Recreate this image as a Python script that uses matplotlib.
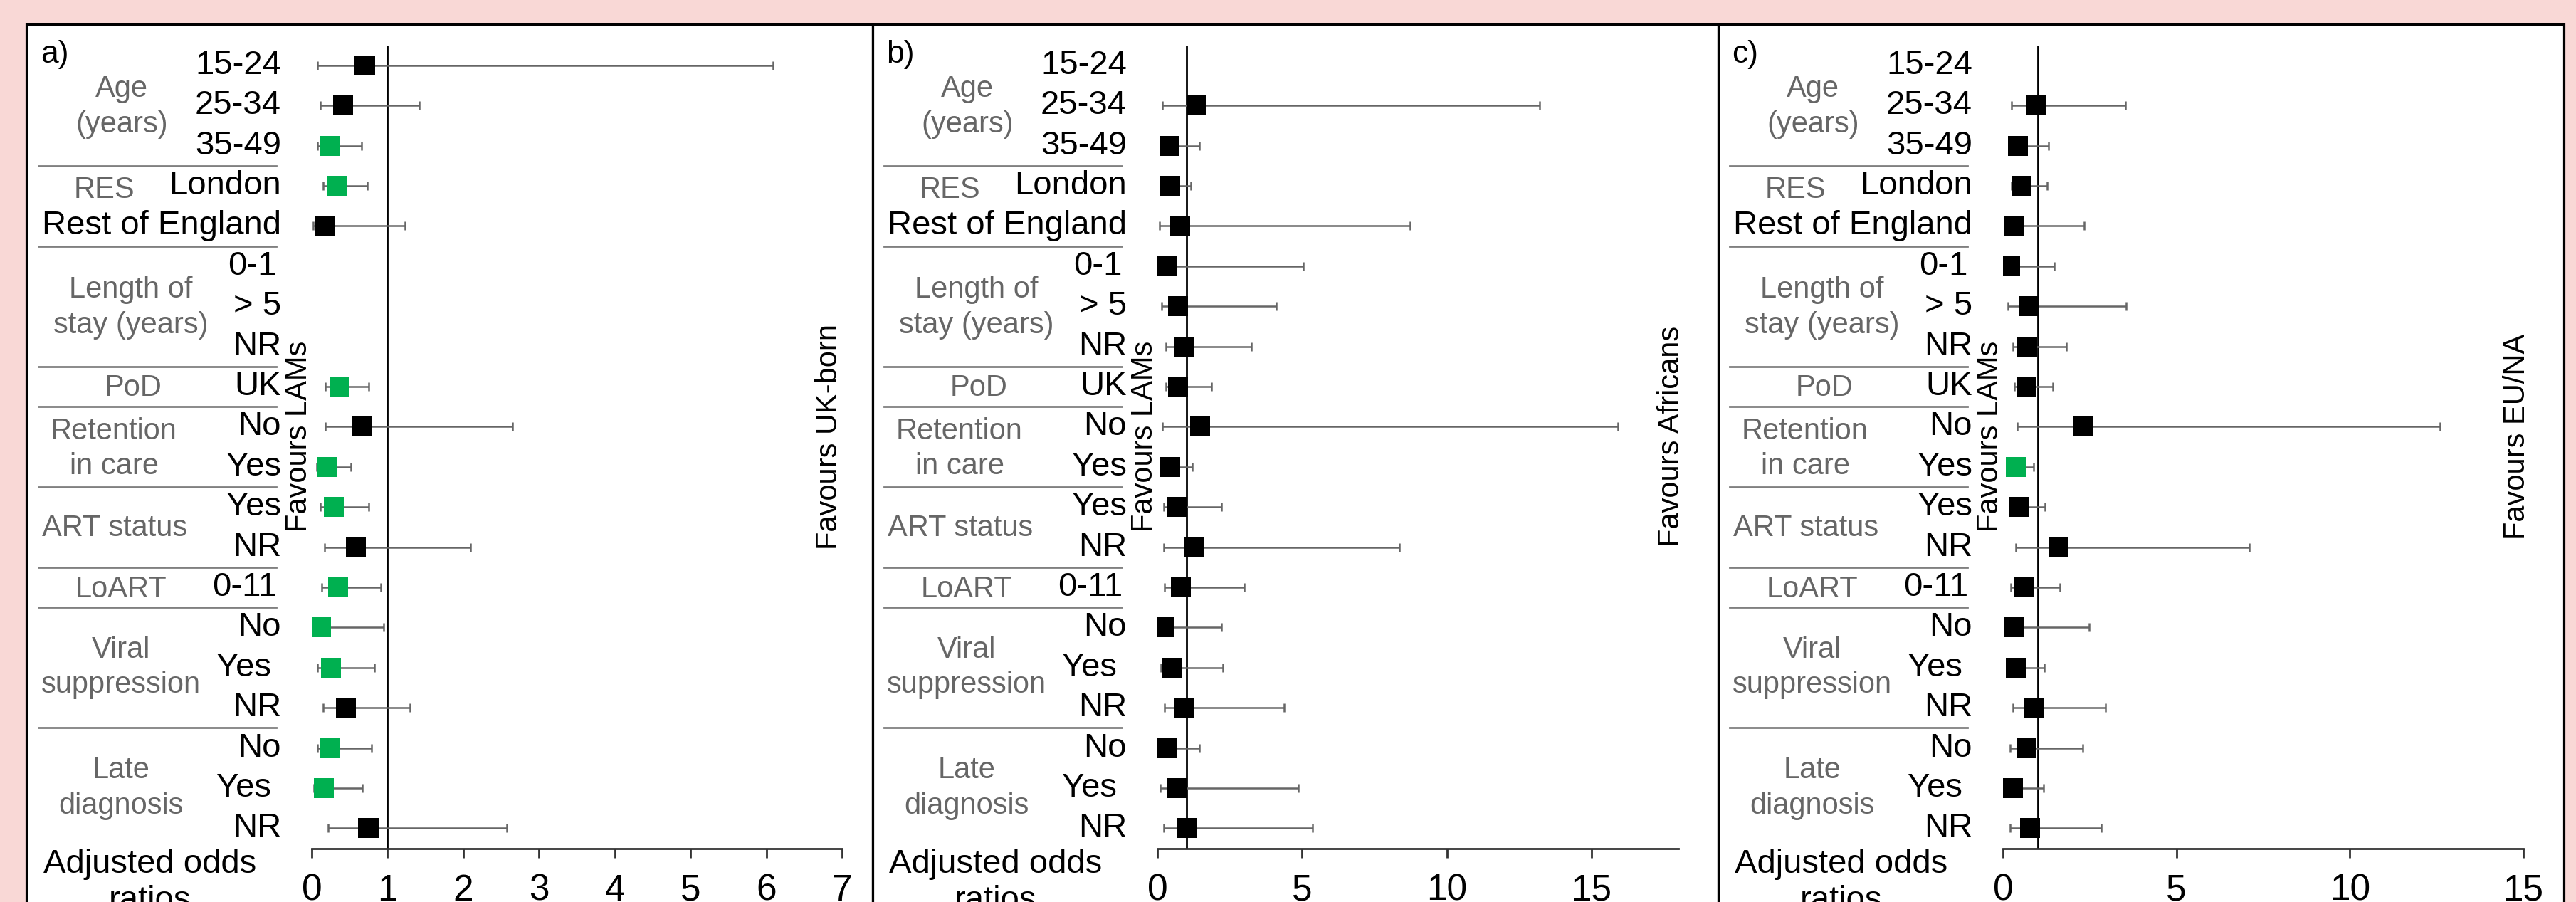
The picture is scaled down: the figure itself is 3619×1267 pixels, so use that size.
import numpy as np
import matplotlib
matplotlib.use("Agg")
import matplotlib.pyplot as plt
from matplotlib.patches import Rectangle
from matplotlib.lines import Line2D
from matplotlib.transforms import blended_transform_factory

plt.rcParams['font.family'] = ['Liberation Sans', 'DejaVu Sans']

nan = np.nan

# rows, top to bottom
row_labels = ['15-24', '25-34', '35-49', 'London', 'Rest of England',
              '0-1', '> 5', 'NR', 'UK', 'No', 'Yes', 'Yes', 'NR', '0-11',
              'No', 'Yes', 'NR', 'No', 'Yes', 'NR']
group_labels = ['Age\n(years)', 'RES', 'Length of\nstay (years)', 'PoD',
                'Retention\nin care', 'ART status', 'LoART',
                'Viral\nsuppression', 'Late\ndiagnosis']
group_rows = [1.03, 3.1, 6.03, 8.04, 9.55, 11.53, 13.05, 15.0, 18.0]
separators = [2.5, 4.5, 7.5, 8.5, 10.5, 12.5, 13.5, 16.5]

panel_tags = ['a)', 'b)', 'c)']
favours_right = ['Favours UK-born', 'Favours Africans', 'Favours EU/NA']
xmax = [7, 18, 15]
xticks = [[0, 1, 2, 3, 4, 5, 6, 7], [0, 5, 10, 15], [0, 5, 10, 15]]

# adjusted odds ratios and 95% CI, LAMs vs UK-born
or_a = [0.70, 0.41, 0.235, 0.33, 0.17, nan, nan, nan, 0.367, 0.67,
        0.207, 0.29, 0.585, 0.35, 0.126, 0.257, 0.447, 0.243, 0.16, 0.747]
lo_a = [0.075, 0.11, 0.075, 0.15, 0.02, nan, nan, nan, 0.18, 0.18,
        0.07, 0.11, 0.17, 0.13, 0.01, 0.075, 0.15, 0.075, 0.03, 0.22]
hi_a = [6.09, 1.42, 0.66, 0.73, 1.23, nan, nan, nan, 0.75, 2.65,
        0.52, 0.75, 2.10, 0.91, 0.945, 0.83, 1.30, 0.79, 0.67, 2.57]

# LAMs vs Africans
or_b = [nan, 1.36, 0.41, 0.44, 0.79, 0.31, 0.71, 0.92, 0.71, 1.47,
        0.44, 0.68, 1.28, 0.81, 0.25, 0.52, 0.94, 0.35, 0.69, 1.04]
lo_b = [nan, 0.16, 0.2, 0.3, 0.08, 0.05, 0.14, 0.29, 0.29, 0.16,
        0.2, 0.22, 0.22, 0.25, 0.05, 0.12, 0.25, 0.1, 0.1, 0.22]
hi_b = [nan, 13.2, 1.44, 1.15, 8.74, 5.03, 4.10, 3.24, 1.86, 15.9,
        1.2, 2.22, 8.36, 3.0, 2.22, 2.26, 4.37, 1.44, 4.86, 5.36]

# LAMs vs EU/NA
or_c = [nan, 0.94, 0.43, 0.54, 0.31, 0.2, 0.73, 0.69, 0.67, 2.32,
        0.37, 0.48, 1.6, 0.62, 0.31, 0.36, 0.9, 0.67, 0.28, 0.78]
lo_c = [nan, 0.25, 0.2, 0.24, 0.05, 0.03, 0.15, 0.28, 0.32, 0.42,
        0.1, 0.2, 0.37, 0.23, 0.05, 0.1, 0.29, 0.2, 0.05, 0.21]
hi_c = [nan, 3.53, 1.31, 1.28, 2.33, 1.47, 3.56, 1.83, 1.44, 12.6,
        0.89, 1.22, 7.09, 1.64, 2.49, 1.2, 2.95, 2.3, 1.16, 2.84]

panels = [(or_a, lo_a, hi_a), (or_b, lo_b, hi_b), (or_c, lo_c, hi_c)]

W, H = 3619, 1267
GREEN = '#00B050'
GREY = '#666666'

fig = plt.figure(figsize=(W / 100, H / 100), dpi=100)
fig.patch.set_facecolor('#F9D8D6')

# white boxes with black frame (open at the bottom)
box_x = [37, 1226, 2414, 3602]
for i in range(3):
    fig.add_artist(Rectangle((box_x[i] / W, 1 - 1320 / H), (box_x[i + 1] - box_x[i]) / W, (1320 - 34) / H,
                             transform=fig.transFigure, facecolor='white',
                             edgecolor='black', lw=2.3, zorder=0))

ax_left = [438, 1626, 2814]
ax_right = [1183, 2358, 3545]
fav_off = [-18, -10, -9]
y_top, y_bot = 63.6, 1191.6
label_shift = {5: -6, 13: -6, 15: -14, 18: -14}
group_off = [-267, -292, -254, -251, -278, -277, -268, -268, -268]

for p in range(3):
    L, R = ax_left[p], ax_right[p]
    ax = fig.add_axes([L / W, 1 - y_bot / H, (R - L) / W, (y_bot - y_top) / H])
    ax.set_facecolor('none')
    ors, los, his = [np.array(v, dtype=float) for v in panels[p]]
    rows = np.arange(len(row_labels))
    ok = ~np.isnan(ors)

    ax.errorbar(ors[ok], rows[ok], xerr=[ors[ok] - los[ok], his[ok] - ors[ok]],
                fmt='none', ecolor=GREY, elinewidth=1.8, capsize=4, capthick=1.8, zorder=2)
    cols = [GREEN if h < 1 else 'black' for h in his[ok]]
    ax.scatter(ors[ok], rows[ok], s=20.2 ** 2, marker='s', c=cols, linewidths=0, zorder=3)
    ax.axvline(1, color='black', lw=2, zorder=1)

    ax.set_xlim(0, xmax[p])
    ax.set_ylim(19.5, -0.5)
    ax.set_xticks(xticks[p])
    ax.set_yticks([])
    for s in ['top', 'right', 'left']:
        ax.spines[s].set_visible(False)
    ax.spines['bottom'].set_color('#333333')
    ax.spines['bottom'].set_linewidth(2)
    ax.tick_params(axis='x', labelsize=37, length=9.4, width=2, pad=16,
                   color='#333333', labelcolor='black')

    tr = blended_transform_factory(fig.transFigure, ax.transData)
    for i, lab in enumerate(row_labels):
        ax.text((L - 43 + label_shift.get(i, 0)) / W, i, lab, transform=tr,
                ha='right', va='center', fontsize=34, color='black')
    for lab, r, off in zip(group_labels, group_rows, group_off):
        ax.text((L + off) / W, r, lab, transform=tr, ha='center', va='center',
                fontsize=30, color=GREY, linespacing=1.3)
    for r in separators:
        ax.add_line(Line2D([(L - 384) / W, (L - 50) / W], [r, r], transform=tr,
                           color='#808080', lw=2, clip_on=False))

    fig.text((L - 381) / W, 1 - 56 / H, panel_tags[p], ha='left', va='top', fontsize=32)
    fig.text((L - 227) / W, 1 - 1192 / H, 'Adjusted odds\nratios', ha='center', va='top',
             fontsize=34, linespacing=1.2)
    fig.text((L - 18) / W, 1 - 613 / H, 'Favours LAMs', rotation=90, ha='center',
             va='center', fontsize=30)
    fig.text((R + fav_off[p]) / W, 1 - 613 / H, favours_right[p], rotation=90,
             ha='center', va='center', fontsize=30)

fig.savefig('out.png', dpi=100, facecolor=fig.get_facecolor())
